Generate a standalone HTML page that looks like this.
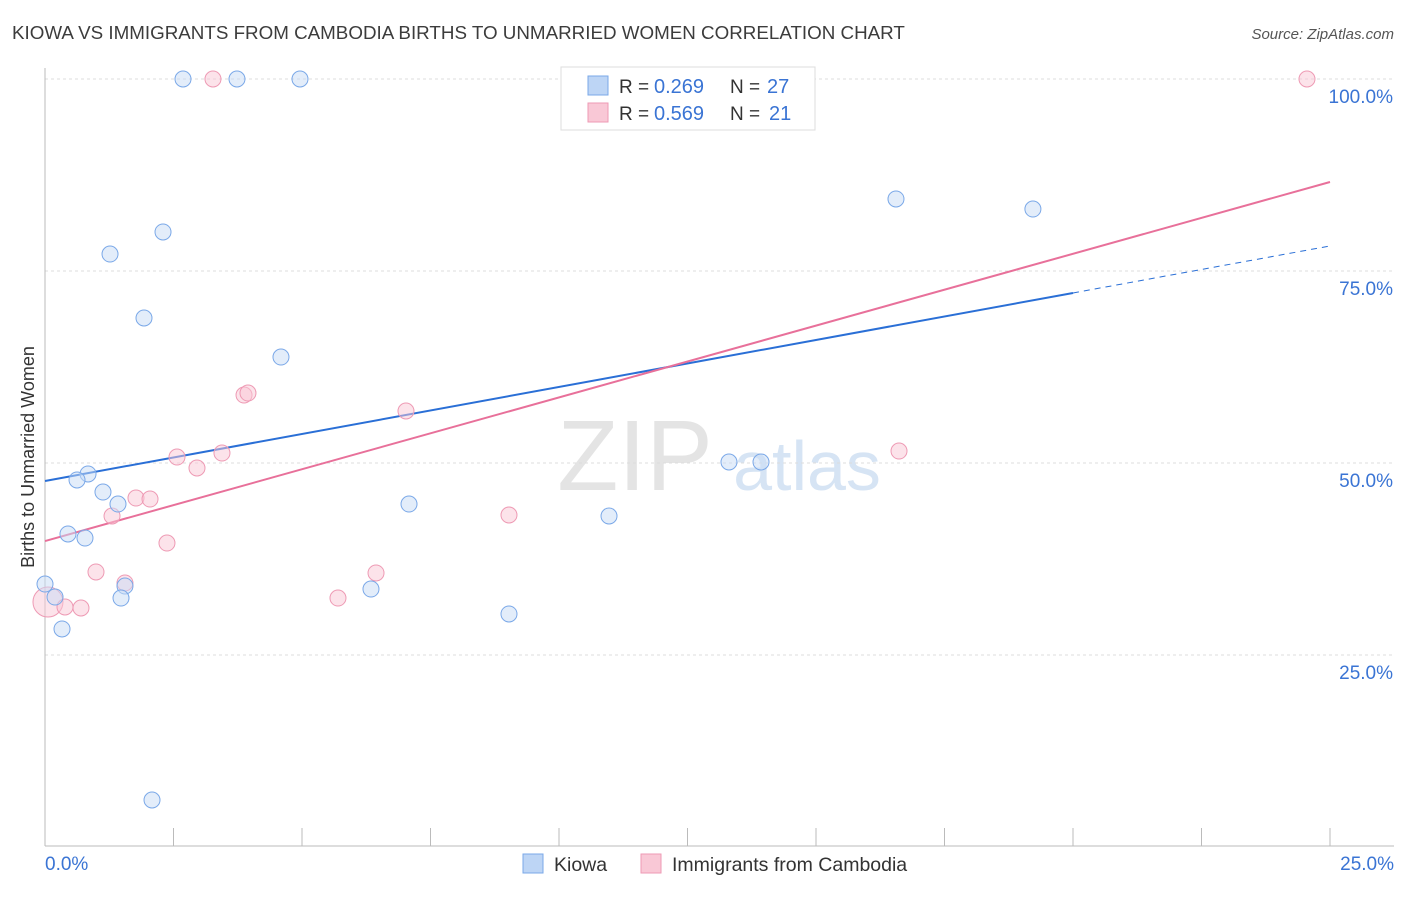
<!DOCTYPE html>
<html><head><meta charset="utf-8"><style>
body{margin:0;background:#fff;font-family:"Liberation Sans",sans-serif;}
svg text{font-family:"Liberation Sans",sans-serif;}
</style></head><body>
<svg id="chart" width="1406" height="892" xmlns="http://www.w3.org/2000/svg">
<text x="12" y="39" font-size="18.8" fill="#3c3c3c">KIOWA VS IMMIGRANTS FROM CAMBODIA BIRTHS TO UNMARRIED WOMEN CORRELATION CHART</text>
<text x="1394" y="39" font-size="15" fill="#555" text-anchor="end" font-style="italic">Source: ZipAtlas.com</text>
<g>
<text x="635" y="490" font-size="100" fill="#e4e4e4" text-anchor="middle" font-family="Liberation Serif">ZIP</text>
<text x="807" y="490" font-size="70" fill="#d6e4f4" text-anchor="middle">atlas</text>
</g>
<g id="grid"></g>
<g id="axes"></g>
<g id="lines"></g>
<g id="points"></g>
<text transform="translate(34,457) rotate(-90)" font-size="18" fill="#333" text-anchor="middle">Births to Unmarried Women</text>
<g>
<rect x="561" y="67" width="254" height="63" fill="#fff" stroke="#ddd"/>
<g>
<rect x="588" y="76" width="20" height="19" fill="#bdd5f5" stroke="#7aa8e8"/>
<text x="619" y="93" font-size="19" fill="#333">R = </text><text x="654" y="93" font-size="20" fill="#3a74d4">0.269</text>
<text x="730" y="93" font-size="19" fill="#333">N = </text><text x="767" y="93" font-size="20" fill="#3a74d4">27</text>
</g>
<g>
<rect x="588" y="103" width="20" height="19" fill="#f9c8d6" stroke="#ee9ab4"/>
<text x="619" y="120" font-size="19" fill="#333">R = </text><text x="654" y="120" font-size="20" fill="#3a74d4">0.569</text>
<text x="730" y="120" font-size="19" fill="#333">N = </text><text x="769" y="120" font-size="20" fill="#3a74d4">21</text>
</g>
</g>
<g>
<rect x="523" y="854" width="20" height="19" fill="#bdd5f5" stroke="#7aa8e8"/>
<text x="554" y="871" font-size="19.5" fill="#333">Kiowa</text>
<rect x="641" y="854" width="20" height="19" fill="#f9c8d6" stroke="#ee9ab4"/>
<text x="672" y="871" font-size="19.5" fill="#333">Immigrants from Cambodia</text>
</g>
</svg>
<script>
const kiowaX=[2.685,3.735,4.961,16.556,19.22,2.296,1.265,1.926,4.591,0.837,0.623,1.128,1.420,7.082,0.447,0.778,10.973,13.307,13.930,0,0.195,1.556,1.479,6.342,0.331,9.027,2.082];
const kiowaY=[100,100,100,84.38,83.07,80.08,77.21,68.88,63.8,48.57,47.79,46.22,44.66,44.66,40.76,40.23,43.10,50.13,50.13,34.24,32.55,33.98,32.42,33.59,28.39,30.34,6.12];
const cambX=[3.268,24.552,3.872,3.949,7.023,2.568,3.443,2.957,16.615,1.304,1.770,2.043,9.027,2.373,0.992,6.440,1.556,5.700,0.058,0.389,0.700];
const cambY=[100,100,58.85,59.11,56.77,50.78,51.30,49.35,51.56,43.10,45.44,45.31,43.23,39.58,35.81,35.68,34.38,32.42,31.9,31.25,31.12];
const cambR=[8,8,8,8,8,8,8,8,8,8,8,8,8,8,8,8,8,8,15,8,8];
const kiowaTrend=[47.66,78.26];
const kiowaSolidEnd=20;
const cambTrend=[39.84,86.59];
const yTicks=[25,50,75,100];
const yTickLabels=["25.0%","50.0%","75.0%","100.0%"];
const xTicks=[0,2.5,5,7.5,10,12.5,15,17.5,20,22.5,25];

const NS="http://www.w3.org/2000/svg";
const X=v=>45+v/25*1285;
const Y=v=>847-v/100*768;
function mk(tag,attrs,parent){const e=document.createElementNS(NS,tag);for(const k in attrs)e.setAttribute(k,attrs[k]);document.getElementById(parent).appendChild(e);return e;}

yTicks.forEach((t,i)=>{
  const g=mk('line',{x1:45,x2:1394,y1:Y(t),y2:Y(t),stroke:'#dcdcdc','stroke-dasharray':'3,3'},'grid');
  
  
  const l=mk('text',{x:1393,y:Y(t)+24,'font-size':19,fill:'#3a74d4','text-anchor':'end'},'axes');
  l.textContent=yTickLabels[i];
  
  
});
const ax=mk('line',{x1:45,x2:45,y1:68,y2:846,stroke:'#bbb'},'axes');


const bx=mk('line',{x1:45,x2:1394,y1:846,y2:846,stroke:'#bbb'},'axes');


xTicks.forEach(t=>{
  const tk=mk('line',{x1:X(t),x2:X(t),y1:828,y2:846,stroke:'#bbb'},'axes');
  
  
});
const x0=mk('text',{x:45,y:870,'font-size':19,fill:'#3a74d4'},'axes');x0.textContent='0.0%';


const x1=mk('text',{x:1394,y:870,'font-size':19,fill:'#3a74d4','text-anchor':'end'},'axes');x1.textContent='25.0%';



function pts(xs,ys,rs,fill,stroke,name){
  xs.forEach((v,i)=>{
    const c=mk('circle',{cx:X(v),cy:Y(ys[i]),r:rs?rs[i]:8,fill:fill,stroke:stroke,'stroke-width':1,'fill-opacity':0.5},'points');
    
    
  });
}
pts(cambX,cambY,cambR,'#f9c8d6','#ee9ab4','cambodia-point');
pts(kiowaX,kiowaY,null,'#c8dcf6','#7aa8e8','kiowa-point');

const kv=x=>kiowaTrend[0]+(kiowaTrend[1]-kiowaTrend[0])*x/25;
const l1=mk('line',{x1:X(0),y1:Y(kv(0)),x2:X(kiowaSolidEnd),y2:Y(kv(kiowaSolidEnd)),stroke:'#2a6fd6','stroke-width':2},'lines');


const l2=mk('line',{x1:X(kiowaSolidEnd),y1:Y(kv(kiowaSolidEnd)),x2:X(25),y2:Y(kv(25)),stroke:'#2a6fd6','stroke-width':1,'stroke-dasharray':'6,5'},'lines');


const l3=mk('line',{x1:X(0),y1:Y(cambTrend[0]),x2:X(25),y2:Y(cambTrend[1]),stroke:'#e8709a','stroke-width':2},'lines');


</script>
</body></html>
